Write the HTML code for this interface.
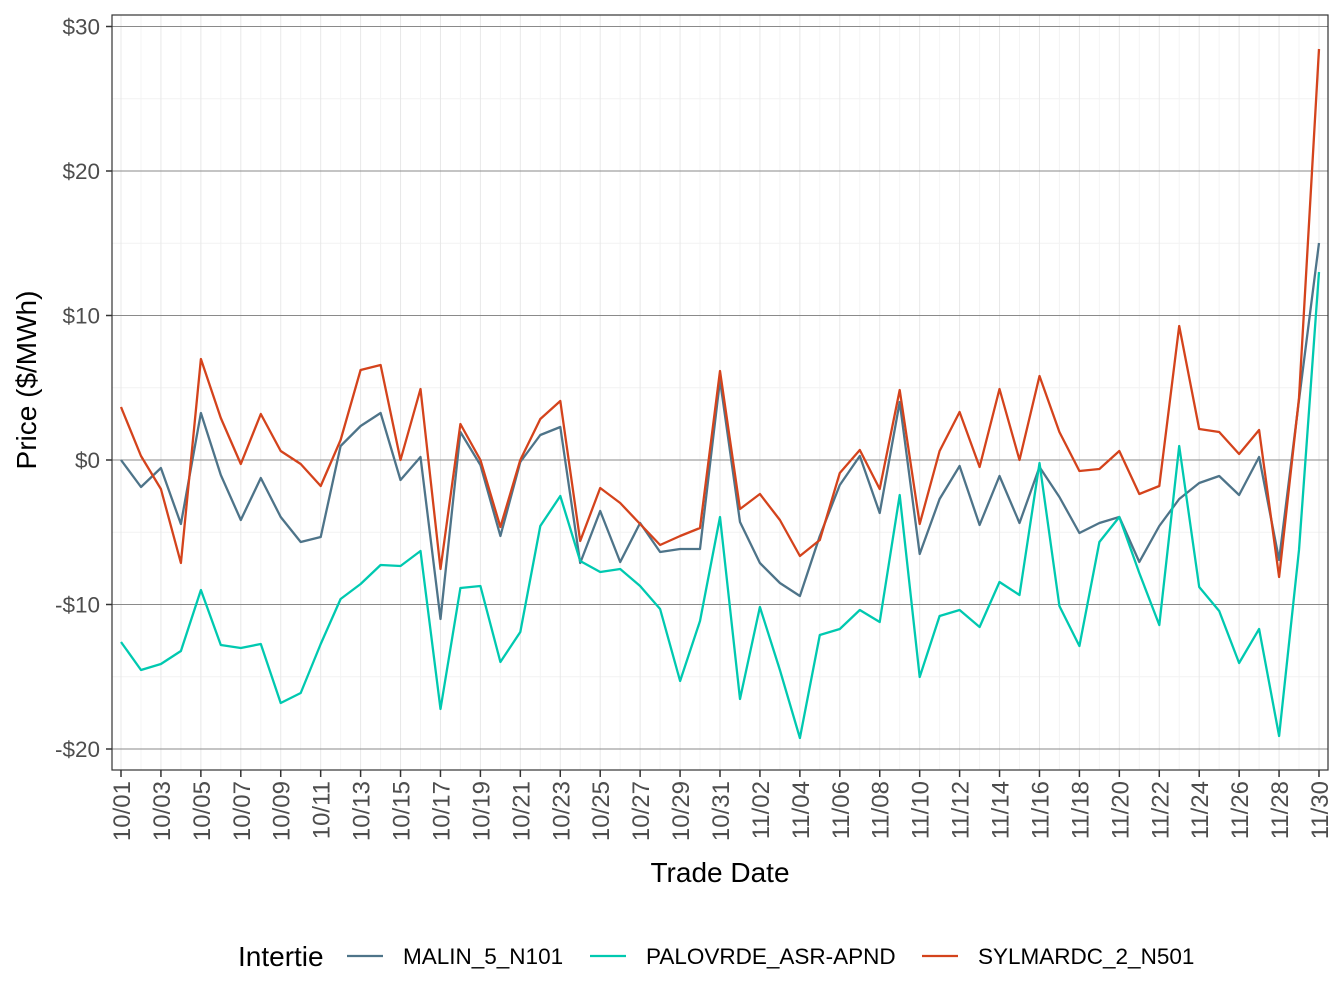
<!DOCTYPE html>
<html><head><meta charset="utf-8"><style>
html,body{margin:0;padding:0;background:#fff;}
svg{display:block;font-family:"Liberation Sans",Arial,sans-serif;}
</style></head><body>
<svg id="s" width="1344" height="1008" viewBox="0 0 1344 1008" xmlns="http://www.w3.org/2000/svg">
<rect width="1344" height="1008" fill="#fff"/>
<g id="grid"></g>
<g id="lines" fill="none" stroke-width="2.3" stroke-linejoin="round"></g>
<rect x="112" y="15" width="1216" height="755" fill="none" stroke="#333" stroke-width="1.2"/>
<g id="axes" fill="#4d4d4d" font-size="22.5"></g>
<text x="720" y="882" font-size="28" text-anchor="middle" fill="#000">Trade Date</text>
<text transform="translate(36,380) rotate(-90)" font-size="28" text-anchor="middle" fill="#000">Price ($/MWh)</text>
<text x="238" y="966" font-size="28" fill="#000">Intertie</text>
<line x1="347" y1="956" x2="383" y2="956" stroke="#4E7489" stroke-width="2.3"/>
<text x="403" y="964" font-size="22.5" fill="#000">MALIN_5_N101</text>
<line x1="590" y1="956" x2="626" y2="956" stroke="#00C9B0" stroke-width="2.3"/>
<text x="646" y="964" font-size="22.5" fill="#000">PALOVRDE_ASR-APND</text>
<line x1="922" y1="956" x2="958" y2="956" stroke="#D4431C" stroke-width="2.3"/>
<text x="978" y="964" font-size="22.5" fill="#000">SYLMARDC_2_N501</text>
</svg>
<script>
var NS="http://www.w3.org/2000/svg";
function el(p,t,a,txt){var e=document.createElementNS(NS,t);for(var k in a)e.setAttribute(k,a[k]);if(txt!==undefined)e.textContent=txt;p.appendChild(e);return e;}
var g=document.getElementById('grid'),ax=document.getElementById('axes'),L=document.getElementById('lines');
function X(i){return 121+i*(1198/60);}
function Y(v){return 460-v*14.45;}
for(var v=-15;v<=25;v+=10)el(g,'line',{x1:112,x2:1328,y1:Y(v),y2:Y(v),stroke:'#f2f2f2','stroke-width':1});
for(var i=0;i<=60;i++){el(g,'line',{x1:X(i),x2:X(i),y1:15,y2:770,stroke:i%2?'#f4f4f4':'#e8e8e8','stroke-width':1});}
for(var v=-20;v<=30;v+=10){el(g,'line',{x1:112,x2:1328,y1:Y(v),y2:Y(v),stroke:'#8a8a8a','stroke-width':1});
 el(ax,'line',{x1:106,x2:112,y1:Y(v),y2:Y(v),stroke:'#333','stroke-width':1.5});
 el(ax,'text',{x:100,y:Y(v)+8,'text-anchor':'end'},(v<0?'-$':'$')+Math.abs(v));}
var days=[];for(var d=1;d<=31;d++)days.push('10/'+(d<10?'0':'')+d);for(var d=1;d<=30;d++)days.push('11/'+(d<10?'0':'')+d);
for(var i=0;i<=60;i+=2){el(ax,'line',{x1:X(i),x2:X(i),y1:770,y2:777,stroke:'#333','stroke-width':1.5});
 el(ax,'text',{transform:'translate('+(X(i)+9)+',781) rotate(-90)','text-anchor':'end','font-size':24},days[i]);}
var malin=[460,487,468,524,413,475,520,478,517,542,537,446,426,413,480,457,619,432,465,536,462,435,427,563,511,562,523,552,549,549,380,522,563,583,596,536,485,456,513,402,554,499,466,525,476,523,467,497,533,523,517,562,526,499,483,476,495,457,560,400,243];
var palo=[642,670,664,651,590,645,648,644,703,693,644,599,584,565,566,551,709,588,586,662,632,526,496,561,572,569,586,609,681,621,517,699,607,670,738,635,629,610,622,495,677,616,610,627,582,595,463,606,646,542,517,573,625,446,587,611,663,629,736,550,272];
var syl=[407,456,489,563,359,418,464,414,451,464,486,440,370,365,460,389,569,424,460,527,460,419,401,541,488,503,524,545,536,528,371,509,494,520,556,540,473,450,489,390,524,451,412,467,389,460,376,432,471,469,451,494,486,326,429,432,454,430,577,398,49];
function path(a,c){var d='';for(var i=0;i<a.length;i++)d+=(i?'L':'M')+X(i).toFixed(1)+','+a[i];el(L,'path',{d:d,stroke:c});}
path(malin,'#4E7489');path(palo,'#00C9B0');path(syl,'#D4431C');
</script>
</body></html>
